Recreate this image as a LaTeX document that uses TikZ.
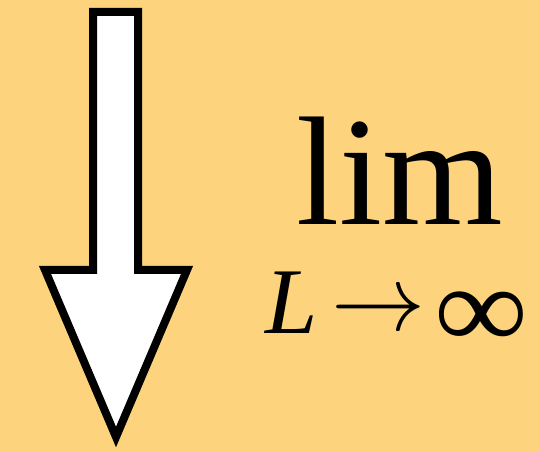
\documentclass[tikz,border=0pt]{standalone}
\usepackage{mathptmx}
\usepackage{fontspec}
\setmainfont{Liberation Serif}
\usepackage{tikz}
\usetikzlibrary{positioning}
\definecolor{limorange}{RGB}{253, 212, 125}

\begin{document}
\begin{tikzpicture}[x=1pt, y=1pt, every node/.style={inner sep=0pt, outer sep=0pt}]
        \fill[limorange] (0,0) rectangle (539,452);
        \useasboundingbox (0,0) rectangle (539,452);
        % big downward arrow
        \draw[fill=white, line width=8pt, line join=miter, miter limit=20]
          (93,440) -- (138,440) -- (138,182) -- (187,182) -- (116,15)
          -- (45,182) -- (93,182) -- cycle;
        \node[anchor=base, text depth=0pt] (lim) at (400,227) {\fontsize{155}{160}\selectfont lim};
        \node[anchor=base west] (ell) at (265,118) {\fontsize{94}{100}\selectfont\itshape L};
        \node (to) at (378,139) {\fontsize{94}{100}\selectfont $\rightarrow$};
        \node[anchor=base, text height=46pt] (infty) at (481,103) {\fontsize{123}{130}\selectfont\scalebox{1.07}[0.96]{∞}};
      \end{tikzpicture}
\end{document}
